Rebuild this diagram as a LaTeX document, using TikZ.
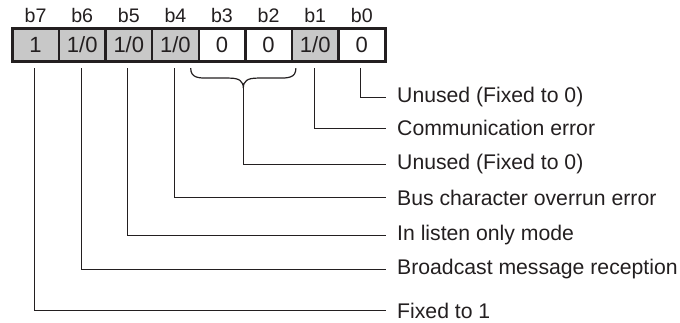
\documentclass[tikz,border=0pt]{standalone}
\usepackage{fontspec}
\setmainfont{Liberation Sans}
\usetikzlibrary{calc}
\definecolor{ink}{HTML}{231F20}
\definecolor{cellgray}{HTML}{C8C8C8}
\begin{document}
\begin{tikzpicture}[x=1pt,y=-1pt,
  cellbox/.style={draw=ink,line width=1.2pt,minimum width=45.4pt,minimum height=31pt,inner sep=0pt,anchor=west,font=\fontsize{22}{22}\selectfont,text=ink},
  setbit/.style={cellbox,fill=cellgray},
  clearbit/.style={cellbox,fill=white},
  bitlabel/.style={font=\fontsize{19.6}{19.6}\selectfont,text=ink,inner sep=0pt},
  desc/.style={anchor=west,inner sep=0pt,inner xsep=11pt,font=\fontsize{21.2}{21.2}\selectfont,text=ink},
  leader/.style={draw=ink,line width=1.2pt}]
\useasboundingbox (0,0) rectangle (680,323);
% cells
\node[setbit]   (c7) at (12.3,45) {1};
\node[setbit]   (c6) at (c7.east) {1/0};
\node[setbit]   (c5) at (c6.east) {1/0};
\node[setbit]   (c4) at (c5.east) {1/0};
\node[clearbit] (c3) at (c4.east) {0};
\node[clearbit] (c2) at (c3.east) {0};
\node[setbit]   (c1) at (c2.east) {1/0};
\node[clearbit] (c0) at (c1.east) {0};
\draw[ink,line width=3pt] (c7.north west) rectangle (c0.south east);
% bit labels
\foreach \i in {7,...,0}{
  \node[bitlabel] (b\i) at ($(c\i.center)+(0,-29.5)$) {b\i};
}
% descriptions
\node[desc] (t0) at (386,97.2) {Unused (Fixed to 0)};
\node[desc] (t1) at (386,128.2) {Communication error};
\node[desc] (t2) at (386,164.3) {Unused (Fixed to 0)};
\node[desc] (t4) at (386,197.7) {Bus character overrun error};
\node[desc] (t5) at (386,235.3) {In listen only mode};
\node[desc] (t6) at (386,269.3) {Broadcast message reception};
\node[desc] (t7) at (386,310.7) {Fixed to 1};
% brace over b3..b2
\coordinate (bl) at ($(c3.south west)+(-8,7)$);
\coordinate (br) at ($(c2.south east)+(4,7)$);
\coordinate (tip) at ($(bl)!0.5!(br)+(0,20)$);
\draw[leader] (bl) .. controls ($(bl)+(0,10)$) and ($(bl)+(8,10)$) .. ($(bl)+(18,10)$)
  -- ($(tip)+(-14,-10)$) .. controls ($(tip)+(-4,-10)$) and ($(tip)+(0,-7)$) .. (tip)
  .. controls ($(tip)+(0,-7)$) and ($(tip)+(4,-10)$) .. ($(tip)+(14,-10)$)
  -- ($(br)+(-18,10)$) .. controls ($(br)+(-8,10)$) and ($(br)+(0,10)$) .. (br);
% leaders
\foreach \i in {7,6,5,4,1,0}{
  \draw[leader] ($(c\i.south)+(-1,7)$) |- (t\i.west);
}
\draw[leader] (tip) |- (t2.west);
\end{tikzpicture}
\end{document}
